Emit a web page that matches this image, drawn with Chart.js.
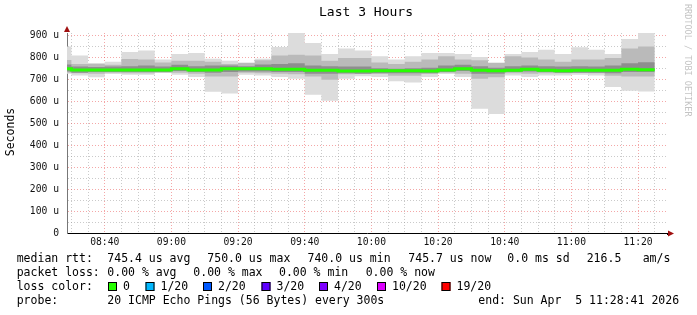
<!DOCTYPE html>
<html>
<head>
<meta charset="utf-8">
<script src="https://cdn.jsdelivr.net/npm/chart.js@4.4.1/dist/chart.umd.min.js"></script>
<style>
  html, body { margin: 0; padding: 0; background: #fff; }
  canvas { display: block; }
</style>
</head>
<body>
<canvas id="smoke" width="697" height="315"></canvas>
<script>
// 5 minute bins, values in microseconds
const binStart = ['08:25','08:30','08:35','08:40','08:45','08:50','08:55','09:00','09:05','09:10','09:15','09:20',
                  '09:25','09:30','09:35','09:40','09:45','09:50','09:55','10:00','10:05','10:10','10:15','10:20',
                  '10:25','10:30','10:35','10:40','10:45','10:50','10:55','11:00','11:05','11:10','11:15','11:20'];
const binEnd = '11:25';
const viewStart = '08:28:41';
const viewEnd = '11:28:41';

const median = [750,745,745,745,745,745,745,750,745,745,750,750,
                750,748,748,743,743,740,740,741,741,741,740,745,
                750,743,741,743,748,743,741,743,743,743,748,746];
const pingMax = [852,811,776,782,826,833,792,817,822,796,787,779,
                 796,849,940,867,817,842,833,807,792,807,822,822,
                 817,804,779,817,826,837,817,848,837,817,886,930];
const pingMin = [728,719,711,726,723,723,731,723,713,645,638,723,
                 719,713,705,632,605,705,716,713,693,688,713,726,
                 713,568,544,719,713,720,720,723,720,667,650,647];
const midHigh = [790,772,772,768,795,792,779,787,787,782,772,776,
                 789,811,814,811,787,799,799,779,772,782,792,807,
                 792,789,776,807,802,792,782,792,792,799,842,852];
const midLow  = [732,730,728,732,730,730,733,732,728,715,715,732,
                 730,728,725,715,700,725,728,728,718,718,728,732,
                 728,705,712,730,728,730,730,732,730,718,715,715];
const innerHigh = [770,760,758,760,762,765,760,768,762,765,765,762,
                   770,772,775,765,762,760,760,752,750,752,755,765,
                   768,762,755,762,765,762,760,762,760,765,775,780];
const innerLow  = [738,732,735,735,735,735,735,740,735,732,735,738,
                   738,735,735,728,728,730,728,730,730,730,730,735,
                   740,728,728,735,738,735,732,732,732,730,735,735];

const yTicks = [0,50,100,150,200,250,300,350,400,450,500,550,600,650,700,750,800,850,900];
const yMajor = [0,100,200,300,400,500,600,700,800,900];
const xLabels = ['08:40','09:00','09:20','09:40','10:00','10:20','10:40','11:00','11:20'];

const lossColors = [['0','#26ff00'],['1/20','#00b8ff'],['2/20','#0059ff'],['3/20','#5e00ff'],
                    ['4/20','#7e00ff'],['10/20','#dd00ff'],['19/20','#ff0000']];

function toMin(t) {
  const p = t.split(':').map(Number);
  return p[0] * 60 + p[1] + (p[2] || 0) / 60;
}
function fmt(m) {
  const h = Math.floor(m / 60), mm = Math.round(m % 60);
  return String(h).padStart(2, '0') + ':' + String(mm).padStart(2, '0');
}
function steps(vals) {
  const pts = binStart.map((t, i) => ({ x: toMin(t), y: vals[i] }));
  pts.push({ x: toMin(binEnd), y: vals[vals.length - 1] });
  return pts;
}
const xTicks = binStart.slice(1).map(toMin).concat(toMin(binEnd));

function band(vals, color, fill) {
  return {
    data: steps(vals), stepped: true, pointRadius: 0, borderWidth: 0,
    borderColor: 'transparent', backgroundColor: color, fill: fill, clip: 0
  };
}

const mono = '"DejaVu Sans Mono", monospace';

const rrdText = {
  id: 'rrdText',
  afterDraw(chart) {
    const ctx = chart.ctx;
    const area = chart.chartArea;
    ctx.save();
    ctx.fillStyle = '#000';
    ctx.textBaseline = 'middle';

    ctx.font = '13px ' + mono;
    ctx.textAlign = 'center';
    ctx.fillText('Last 3 Hours', 366, 13);

    ctx.font = '11.5px ' + mono;
    ctx.save();
    ctx.translate(11, 132);
    ctx.rotate(-Math.PI / 2);
    ctx.fillText('Seconds', 0, 0);
    ctx.restore();

    ctx.save();
    ctx.fillStyle = '#c4c4c4';
    ctx.font = '8.5px ' + mono;
    ctx.textAlign = 'left';
    ctx.translate(687, 4);
    ctx.rotate(Math.PI / 2);
    ctx.fillText('RRDTOOL / TOBI OETIKER', 0, 0);
    ctx.restore();

    // axis arrows
    ctx.fillStyle = '#a01010';
    ctx.beginPath();
    ctx.moveTo(area.left - 3, 32); ctx.lineTo(area.left + 3, 32); ctx.lineTo(area.left, 26);
    ctx.closePath(); ctx.fill();
    ctx.strokeStyle = '#000';
    ctx.lineWidth = 1;
    ctx.beginPath();
    ctx.moveTo(area.right, Math.round(area.bottom) + 0.5);
    ctx.lineTo(669, Math.round(area.bottom) + 0.5);
    ctx.stroke();
    ctx.beginPath();
    ctx.moveTo(668, area.bottom - 3); ctx.lineTo(668, area.bottom + 3); ctx.lineTo(674, area.bottom);
    ctx.closePath(); ctx.fill();

    // legend
    ctx.fillStyle = '#000';
    ctx.textAlign = 'left';
    ctx.font = '11.5px ' + mono;
    const rows = [
      [259, [[16.7,'median rtt:'],[107.3,'745.4 us avg'],[207.3,'750.0 us max'],[307.5,'740.0 us min'],
             [408.3,'745.7 us now'],[507.3,'0.0 ms sd'],[586.7,'216.5'],[642.7,'am/s']]],
      [273, [[16.7,'packet loss:'],[107.3,'0.00 % avg'],[193.3,'0.00 % max'],[279,'0.00 % min'],[365.7,'0.00 % now']]],
      [287, [[16.7,'loss color:']]],
      [301, [[16.7,'probe:'],[107.3,'20 ICMP Echo Pings (56 Bytes) every 300s'],[478.3,'end: Sun Apr  5 11:28:41 2026']]]
    ];
    rows.forEach(([y, parts]) => parts.forEach(([x, s]) => ctx.fillText(s, x, y)));
    const boxX = [108, 145.5, 203, 261.5, 319, 377, 441.5];
    lossColors.forEach(([label, col], i) => {
      ctx.fillStyle = col;
      ctx.fillRect(boxX[i], 282, 9, 9);
      ctx.strokeStyle = '#000';
      ctx.strokeRect(boxX[i] + 0.5, 282.5, 8, 8);
      ctx.fillStyle = '#000';
      ctx.fillText(label, boxX[i] + 15, 287);
    });
    ctx.restore();
  }
};

new Chart(document.getElementById('smoke'), {
  type: 'line',
  data: {
    datasets: [
      { data: steps(median), stepped: true, pointRadius: 0, borderWidth: 3,
        borderColor: '#26ff00', fill: false, clip: 0 },
      band(innerHigh, '#8e8e8e', '+1'),
      band(innerLow, 'transparent', false),
      band(midHigh, '#bababa', '+1'),
      band(midLow, 'transparent', false),
      band(pingMax, '#dcdcdc', '+1'),
      band(pingMin, 'transparent', false)
    ]
  },
  options: {
    responsive: false,
    animation: false,
    devicePixelRatio: 1,
    layout: { padding: { top: 33, right: 30, left: 0, bottom: 0 } },
    plugins: { legend: { display: false }, tooltip: { enabled: false } },
    scales: {
      x: {
        type: 'linear',
        min: toMin(viewStart),
        max: toMin(viewEnd),
        afterFit: s => { s.height = 81.5; },
        afterBuildTicks: s => { s.ticks = xTicks.map(v => ({ value: v })); },
        ticks: {
          autoSkip: false, maxRotation: 0, padding: 3, color: '#111',
          font: { family: 'DejaVu Sans Mono', size: 9.7 },
          callback: v => xLabels.includes(fmt(v)) ? fmt(v) : ''
        },
        grid: {
          drawTicks: false,
          color: c => xLabels.includes(fmt(c.tick.value)) ? 'rgba(230,60,60,0.45)' : 'rgba(150,150,150,0.5)'
        },
        border: { color: '#000', width: 1, dash: [1, 2] }
      },
      y: {
        min: 0,
        max: 913,
        afterFit: s => { s.width = 67; },
        afterBuildTicks: s => { s.ticks = yTicks.map(v => ({ value: v })); },
        ticks: {
          autoSkip: false, padding: 8, color: '#111',
          font: { family: 'DejaVu Sans Mono', size: 9.7 },
          callback: v => yMajor.includes(v) ? (v === 0 ? '0' : v + ' u') : ''
        },
        grid: {
          drawTicks: false,
          color: c => yMajor.includes(c.tick.value) ? 'rgba(230,60,60,0.45)' : 'rgba(150,150,150,0.5)'
        },
        border: { color: '#777', width: 1, dash: [1, 2] }
      }
    }
  },
  plugins: [rrdText]
});
</script>
</body>
</html>
